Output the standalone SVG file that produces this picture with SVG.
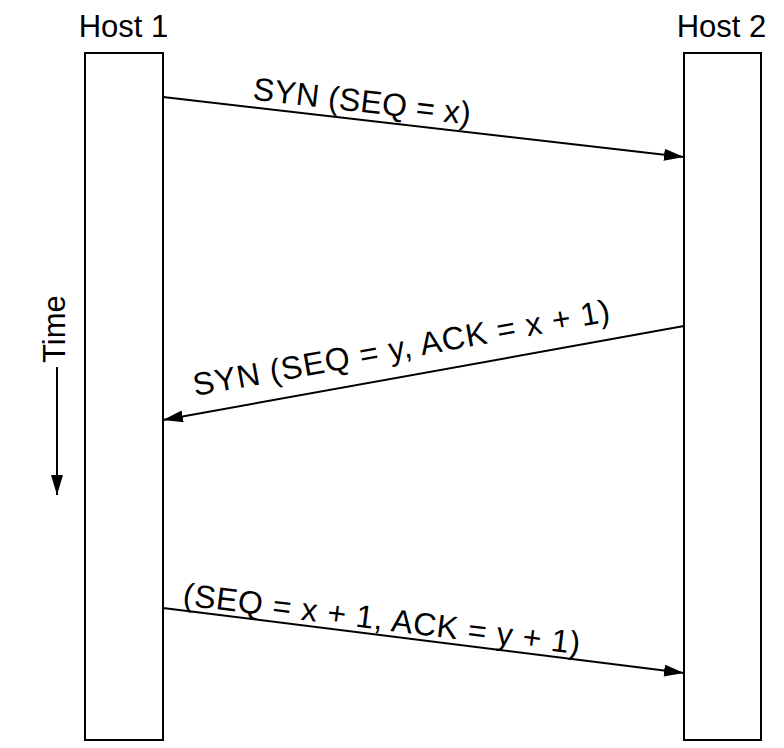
<svg xmlns="http://www.w3.org/2000/svg" width="784" height="748" viewBox="0 0 784 748">
<style>
.box{fill:#fff;stroke:#000;stroke-width:2}
.lbl{font-family:"Liberation Sans",Arial,sans-serif;font-size:31px;fill:#000}
.msg{font-family:"Liberation Sans",Arial,sans-serif;font-size:32px;fill:#000}
.ln{stroke:#000;stroke-width:2;fill:none;marker-end:url(#ah)}
</style>
<defs>
<marker id="ah" markerUnits="userSpaceOnUse" markerWidth="22" markerHeight="14" refX="20" refY="6" orient="auto">
<path d="M0,0 L20,6 L0,12 z" fill="#000"/>
</marker>
</defs>
<rect width="784" height="748" fill="#fff"/>
<g id="host1">
<rect class="box" x="85" y="53" width="78" height="687"/>
<text class="lbl" x="123.5" y="37" text-anchor="middle">Host 1</text>
</g>
<g id="host2">
<rect class="box" x="684" y="53" width="77" height="687"/>
<text class="lbl" x="721.5" y="37" text-anchor="middle">Host 2</text>
</g>
<g id="time">
<text class="lbl" x="65" y="363" transform="rotate(-90 65 363)">Time</text>
<line class="ln" x1="57" y1="367" x2="57" y2="495"/>
</g>
<g id="connectors">
<line class="ln" x1="163" y1="97" x2="684" y2="157"/>
<text class="msg" x="252" y="99.5" transform="rotate(6.57 252 99.5)" textLength="219" lengthAdjust="spacing">SYN (SEQ = x)</text>
<line class="ln" x1="684" y1="326" x2="163" y2="420"/>
<text class="msg" x="195" y="396" transform="rotate(-10.2 195 396)" textLength="423" lengthAdjust="spacing">SYN (SEQ = y, ACK = x + 1)</text>
<line class="ln" x1="163" y1="608" x2="684" y2="673"/>
<text class="msg" x="182" y="605" transform="rotate(7.1 182 605)" textLength="400" lengthAdjust="spacing">(SEQ = x + 1, ACK = y + 1)</text>
</g>
</svg>
